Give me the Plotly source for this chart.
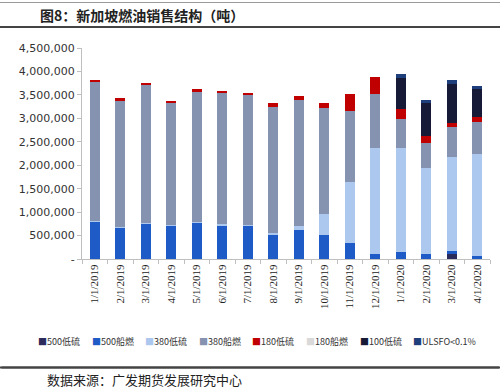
import plotly.graph_objects as go

categories = ["1/1/2019", "2/1/2019", "3/1/2019", "4/1/2019", "5/1/2019", "6/1/2019",
              "7/1/2019", "8/1/2019", "9/1/2019", "10/1/2019", "11/1/2019", "12/1/2019",
              "1/1/2020", "2/1/2020", "3/1/2020", "4/1/2020"]

s_500ls = [0, 0, 0, 0, 0, 0, 0, 0, 0, 0, 0, 0, 0, 0, 100000, 0]
s_500bf = [790000, 680000, 760000, 710000, 770000, 720000, 710000, 520000, 620000, 510000,
           350000, 110000, 140000, 110000, 80000, 70000]
s_380ls = [10000, 10000, 10000, 10000, 10000, 30000, 10000, 40000, 90000, 450000,
           1290000, 2250000, 2220000, 1830000, 1990000, 2160000]
s_380bf = [2980000, 2700000, 2950000, 2610000, 2780000, 2780000, 2780000, 2690000, 2690000, 2270000,
           1510000, 1160000, 620000, 540000, 650000, 690000]
s_180ls = [30000, 40000, 40000, 40000, 70000, 50000, 40000, 70000, 80000, 100000,
           370000, 370000, 210000, 140000, 90000, 110000]
s_180bf = [0, 0, 0, 0, 0, 0, 0, 0, 0, 0, 0, 0, 0, 0, 0, 0]
s_100ls = [0, 0, 0, 0, 0, 0, 0, 0, 0, 0, 0, 0, 680000, 700000, 820000, 590000]
s_ulsfo = [0, 0, 0, 0, 0, 0, 0, 0, 0, 0, 0, 0, 80000, 70000, 90000, 80000]

series_names = ["500低硫", "500船燃", "380低硫", "380船燃", "180低硫", "180船燃", "100低硫", "ULSFO<0.1%"]
series_values = [s_500ls, s_500bf, s_380ls, s_380bf, s_180ls, s_180bf, s_100ls, s_ulsfo]
series_colors = ["#2b2b5c", "#1f5bc6", "#adc8ef", "#8593b0", "#c00000", "#d9d9d9", "#171a36", "#1f3f7c"]

y_tickvals = [0, 500000, 1000000, 1500000, 2000000, 2500000, 3000000, 3500000, 4000000, 4500000]
y_ticktext = ["-", "500,000", "1,000,000", "1,500,000", "2,000,000", "2,500,000",
              "3,000,000", "3,500,000", "4,000,000", "4,500,000"]

fig = go.Figure()
for name, vals, col in zip(series_names, series_values, series_colors):
    fig.add_trace(go.Bar(x=categories, y=vals, name=name, marker_color=col,
                         marker_line_width=0, showlegend=False))

W, H = 500, 388
L, R, T, B = 82, 10, 48, 129
PW, PH = W - L - R, H - T - B

def xp(px):
    return (px - L) / PW

def yp(py):
    return (H - B - py) / PH

fig.update_layout(
    width=W, height=H, barmode="stack", bargap=0.6,
    margin=dict(l=L, r=R, t=T, b=B),
    plot_bgcolor="white", paper_bgcolor="white",
    font=dict(family="DejaVu Sans", size=10, color="#333333"),
    xaxis=dict(type="category", tickangle=-90, ticks="outside", tickson="boundaries",
               ticklen=4, tickcolor="#bfbfbf", showline=True, linecolor="#bfbfbf",
               tickfont=dict(family="Liberation Serif", size=11, color="#222222"),
               showgrid=False),
    yaxis=dict(range=[0, 4500000], tickvals=y_tickvals, ticktext=y_ticktext,
               ticks="outside", ticklen=4, tickcolor="#bfbfbf", showline=True,
               linecolor="#bfbfbf", showgrid=False, zeroline=False,
               tickfont=dict(family="DejaVu Sans", size=11, color="#333333")),
)

# title
fig.add_annotation(text="<b>图8：新加坡燃油销售结构（吨）</b>", xref="paper", yref="paper",
                   x=xp(38), y=yp(15), xanchor="left", yanchor="middle", showarrow=False,
                   font=dict(family="Noto Sans CJK SC", size=14, color="#222222"))

# separator rules: shapes plus arrow-line annotations (headless arrows)
rules = [(2.5, 1, "#9a9a9a"), (27, 2, "#444444"), (367.5, 2, "#444444")]
for (py, wdt, col) in rules:
    fig.add_shape(type="line", xref="paper", yref="paper", layer="above",
                  x0=xp(0), x1=xp(500), y0=yp(py), y1=yp(py),
                  line=dict(color=col, width=wdt))
    fig.add_annotation(text="", xref="paper", yref="paper", x=xp(500), y=yp(py),
                       axref="pixel", ayref="pixel", ax=-500, ay=0,
                       showarrow=True, arrowhead=0, arrowwidth=wdt, arrowcolor=col,
                       standoff=0, startstandoff=0)

fig.add_annotation(text="数据来源：广发期货发展研究中心", xref="paper", yref="paper",
                   x=xp(45), y=yp(379), xanchor="left", yanchor="middle", showarrow=False,
                   font=dict(family="Noto Sans CJK SC", size=13, color="#222222"))

# legend built from series names/colors
leg_x0, leg_step = 36, 53.6
for i, (name, col) in enumerate(zip(series_names, series_colors)):
    fig.add_annotation(text=f"<span style='color:{col}'>■</span>{name}", xref="paper", yref="paper",
                       x=xp(leg_x0 + i * leg_step), y=yp(341), xanchor="left", yanchor="middle",
                       showarrow=False, font=dict(family="Noto Sans CJK SC", size=9, color="#333333"))

fig.write_html("out.html", config={"displayModeBar": False},
               post_script="document.body.style.margin='0';")
